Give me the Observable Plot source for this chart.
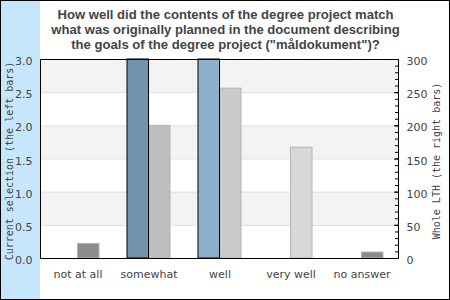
<!DOCTYPE html>
<html>
<head>
<meta charset="utf-8">
<script src="https://cdn.jsdelivr.net/npm/d3@7"></script>
<script src="https://cdn.jsdelivr.net/npm/@observablehq/plot@0.6"></script>
<style>
  html, body { margin: 0; padding: 0; background: #fff; }
</style>
</head>
<body>
<div id="chart"></div>
<script>
const titleText = "How well did the contents of the degree project match\nwhat was originally planned in the document describing\nthe goals of the degree project (\"måldokument\")?";
const categories = ["not at all", "somewhat", "well", "very well", "no answer"];
const currentSelection = [0, 3, 3, 0, 0];        // left axis (0–3)
const wholeLTH = [22, 200, 256, 167, 9];          // right axis (0–300)
const leftColors = ["#5f7f9a", "#7394ae", "#8fb0cb", "#b0cbe0", "#5f7f9a"];
const rightColors = ["#8c8c8c", "#bebebe", "#cacaca", "#d8d8d8", "#8c8c8c"];
const leftTicks = [0, 0.5, 1, 1.5, 2, 2.5, 3];
const rightTicks = [0, 50, 100, 150, 200, 250, 300];
const rightMinorTicks = d3.range(0, 301, 10);
const leftLabel = "Current selection (the left bars)";
const rightLabel = "Whole LTH (the right bars)";

const W = 450, H = 300, mL = 40, mR = 52, mT = 59, mB = 42;
const frameW = W - mL - mR;
const step = frameW / categories.length;
const half = step * 0.6 / 2;
const rightScale = 100; // 300 on the right axis == 3.0 on the left axis

const rows = categories.map((c, i) => ({
  category: c,
  current: currentSelection[i],
  whole: wholeLTH[i],
  leftColor: leftColors[i],
  rightColor: rightColors[i]
}));
const bands = [[0.5, 1], [1.5, 2], [2.5, 3]];

const chart = Plot.plot({
  width: W, height: H,
  marginLeft: mL, marginRight: mR, marginTop: mT, marginBottom: mB,
  style: "background: linear-gradient(to right, #000 0px, #000 1px, #c6e6fb 1px, #c6e6fb 40px, #ffffff 40px); outline: 1px solid #000; outline-offset: -1px; font-family: 'DejaVu Sans', sans-serif; font-size: 11px; color: #444;",
  x: {domain: categories, paddingInner: 0.4, paddingOuter: 0.2, axis: null},
  y: {domain: [0, 3], axis: null},
  color: {type: "identity"},
  marks: [
    Plot.rectY(bands, {y1: d => d[0], y2: d => d[1], fill: "#f3f3f3"}),
    Plot.ruleY([0.5, 1, 1.5, 2, 2.5], {stroke: "#e0e0e0"}),
    Plot.barY(rows, {x: "category", y: d => d.whole / rightScale, fill: d => d.rightColor, stroke: "#b3b3b3", insetLeft: half}),
    Plot.barY(rows.filter(d => d.current > 0), {x: "category", y: "current", fill: d => d.leftColor, stroke: "#000", insetRight: half}),
    Plot.frame({stroke: "#000"}),
    Plot.axisY(leftTicks, {anchor: "left", tickSize: 0, tickPadding: 8, tickFormat: d3.format(".1f"), dy: 2, label: null}),
    Plot.axisY(rightTicks.map(v => v / rightScale), {anchor: "right", tickSize: 0, tickPadding: 8, tickFormat: d => String(Math.round(d * rightScale)), dy: 2, label: null}),
    Plot.ruleY(rightMinorTicks.map(v => v / rightScale), {stroke: "#000", insetLeft: frameW - 3}),
    Plot.ruleY(rightTicks.map(v => v / rightScale), {stroke: "#000", insetLeft: frameW - 4, insetRight: -1}),
    Plot.axisX({anchor: "bottom", tickSize: 0, tickPadding: 12, label: null}),
    Plot.text([leftLabel], {frameAnchor: "left", dx: -28, dy: 2, rotate: -90, textAnchor: "middle", lineAnchor: "bottom", fontFamily: "DejaVu Sans Mono", fontSize: 10, fill: "#444"}),
    Plot.text([rightLabel], {frameAnchor: "right", dx: 41, dy: 2, rotate: -90, textAnchor: "middle", lineAnchor: "bottom", fontFamily: "DejaVu Sans Mono", fontSize: 10, fill: "#444"}),
    Plot.text([titleText], {frameAnchor: "top", dx: 6, dy: -51, lineAnchor: "top", lineHeight: 1.15, fontSize: 13.1, fontWeight: "bold", fontFamily: "Liberation Sans, Arial, sans-serif", fill: "#444"})
  ]
});
document.getElementById("chart").append(chart);
</script>
</body>
</html>
